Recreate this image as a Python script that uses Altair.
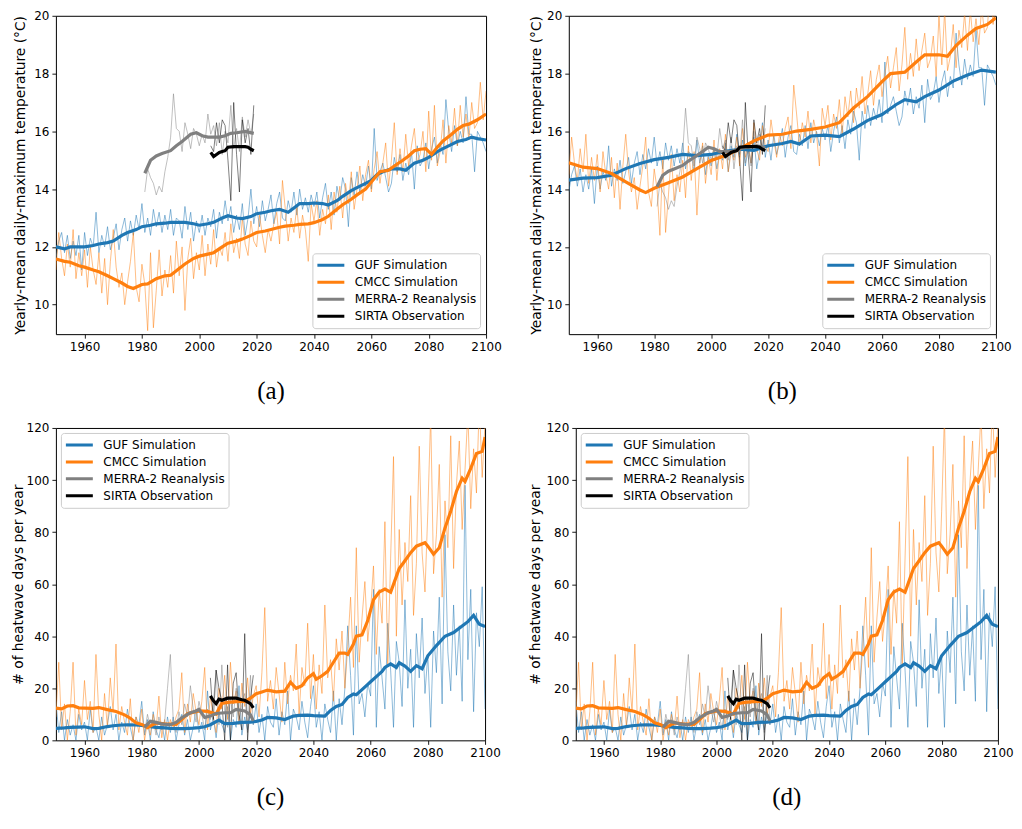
import altair as alt
import pandas as pd

FONT = "DejaVu Sans"
SERIES = ["GUF Simulation", "CMCC Simulation", "MERRA-2 Reanalysis", "SIRTA Observation"]
COLORS = ["#1f77b4", "#ff7f0e", "#808080", "#000000"]

YEARS_SIM = list(range(1950, 2101))
YEARS_MERRA = list(range(1981, 2020))
YEARS_SIRTA = list(range(2004, 2020))

# ---------------- panel (a): yearly-mean daily-max temperature, raw model output
GUF_A_RAW = [
    11.6, 12.2, 12.5, 11.8, 12.4, 11.6, 12.2, 11.7, 12.4, 11.2,
    12.5, 11.7, 12.3, 12.0, 13.2, 11.8, 12.4, 12.0, 12.7, 11.9,
    12.3, 12.8, 11.9, 12.6, 13.0, 12.2, 12.9, 12.4, 13.1, 12.6,
    13.5, 12.5, 13.0, 12.4, 13.3, 12.7, 13.2, 12.5, 13.1, 12.6,
    13.3, 12.4, 13.0, 12.9, 12.3, 13.4, 12.6, 13.2, 12.2, 12.9,
    12.5, 13.1, 12.4, 13.0, 12.7, 13.3, 12.3, 13.2, 12.8, 13.6,
    12.9, 13.4, 12.5, 13.1, 12.6, 13.5, 12.4, 13.0, 14.0, 12.8,
    13.4, 12.7, 13.6, 12.9, 13.3, 13.8, 12.8, 13.5, 13.9, 13.0,
    12.9, 13.6, 13.2, 13.9, 13.1, 14.0, 13.3, 13.7, 13.2, 13.8,
    13.4, 13.9, 13.0, 13.7, 14.2, 13.3, 13.9, 13.1, 14.1, 13.6,
    14.4, 14.0, 12.7, 14.4, 13.8, 14.6, 13.9, 14.5, 14.1, 14.8,
    14.0, 16.1, 14.3, 14.6, 14.9, 14.4, 13.9, 14.2, 15.1, 14.6,
    15.2, 14.3, 14.9, 14.5, 15.3, 14.0, 15.5, 14.8, 15.0, 15.6,
    14.7, 15.4, 15.8, 14.9, 15.6, 15.2, 17.1, 16.0, 15.3, 16.2,
    15.5, 16.0, 15.6, 17.2, 15.9, 15.9, 14.6, 16.0, 15.8, 15.6,
    15.3,
]
CMCC_A_RAW = [
    11.2, 12.5, 11.6, 11.0, 12.1, 11.3, 12.6, 10.9, 11.8, 11.0,
    11.9, 10.6, 12.0, 11.2, 10.7, 11.8, 10.4, 11.6, 10.0, 11.5,
    12.6, 11.3, 10.6, 11.1, 10.0, 10.8, 11.5, 12.5, 10.6, 10.1,
    11.4, 10.7, 9.1, 11.8, 9.2, 10.5, 11.9, 10.3, 11.2, 10.6,
    11.7, 10.4, 12.2, 11.0, 12.0, 9.8, 11.6, 12.3, 10.9, 11.8,
    11.2, 12.4, 11.0, 12.1, 11.4, 12.6, 11.3, 12.0, 11.7, 12.5,
    11.5, 12.8, 11.8, 12.3, 11.6, 13.0, 12.1, 11.7, 12.9, 12.2,
    12.0, 13.1, 12.4, 11.8, 12.6, 12.2, 12.8, 13.2, 12.1, 14.3,
    13.3, 12.2, 13.0, 12.5, 13.4, 12.3, 13.1, 12.6, 11.5, 13.5,
    12.9, 13.6, 12.4, 13.3, 12.8, 13.8, 12.6, 13.9, 13.2, 14.1,
    13.0, 14.2, 13.5, 14.6, 13.3, 14.0, 14.8, 13.6, 14.5, 15.0,
    13.9, 14.7, 15.3, 14.2, 14.9, 15.6, 14.1, 15.0, 16.3, 14.5,
    15.4, 14.6, 15.9, 14.8, 15.5, 16.1, 14.9, 15.2, 16.0, 14.6,
    16.7, 15.0, 16.9, 14.8, 15.3, 16.4, 14.9, 16.2, 15.6, 16.8,
    15.5, 16.9, 15.8, 16.6, 15.7, 17.0, 16.1, 16.3, 17.7, 16.4,
    17.4,
]
MERRA_A_RAW = [
    13.9, 14.7, 14.4, 14.2, 13.8, 14.1, 13.9, 14.6, 15.1, 15.8,
    17.3, 16.1, 16.0, 15.3, 16.3, 15.9, 15.4, 16.1, 15.9, 15.5,
    15.9, 15.6, 16.6, 15.9, 16.2, 15.5, 16.3, 15.2, 16.0, 15.6,
    16.9, 15.4, 16.1, 15.3, 16.5, 15.8, 16.4, 15.9, 16.6,
]
SIRTA_T_RAW = [15.5, 15.3, 16.3, 15.6, 16.4, 16.2, 15.0, 13.6,
               17.0, 15.2, 13.9, 16.4, 15.6, 16.1, 15.2, 16.9]

GUF_A_SM = [(1950, 12.0), (1953, 11.93), (1955, 12.0), (1958, 12.0), (1960, 12.0),
            (1963, 12.05), (1965, 12.1), (1968, 12.15), (1970, 12.2), (1973, 12.4),
            (1975, 12.5), (1978, 12.6), (1980, 12.7), (1983, 12.75), (1985, 12.8),
            (1988, 12.82), (1990, 12.85), (1993, 12.85), (1995, 12.85), (1998, 12.8),
            (2000, 12.75), (2003, 12.8), (2005, 12.85), (2008, 13.0), (2010, 13.08),
            (2013, 13.0), (2015, 12.98), (2018, 13.05), (2020, 13.15), (2023, 13.2),
            (2025, 13.25), (2028, 13.3), (2031, 13.2), (2033, 13.35), (2035, 13.5),
            (2038, 13.5), (2040, 13.52), (2043, 13.5), (2045, 13.45), (2048, 13.6),
            (2050, 13.75), (2053, 13.95), (2055, 14.05), (2058, 14.2), (2060, 14.3),
            (2062, 14.5), (2064, 14.6), (2067, 14.7), (2070, 14.7), (2072, 14.65),
            (2075, 14.9), (2078, 15.0), (2080, 15.1), (2083, 15.3), (2085, 15.4),
            (2088, 15.55), (2090, 15.65), (2093, 15.72), (2095, 15.8), (2097, 15.75),
            (2100, 15.7)]
CMCC_A_SM = [(1950, 11.58), (1953, 11.5), (1955, 11.47), (1958, 11.35), (1960, 11.3),
             (1963, 11.2), (1965, 11.14), (1968, 11.0), (1970, 10.9), (1973, 10.75),
             (1975, 10.63), (1977, 10.56), (1980, 10.7), (1982, 10.72), (1985, 10.9),
             (1988, 11.0), (1990, 11.02), (1993, 11.25), (1995, 11.41), (1998, 11.6),
             (2000, 11.68), (2003, 11.75), (2005, 11.8), (2008, 12.0), (2010, 12.13),
             (2013, 12.2), (2015, 12.27), (2018, 12.4), (2020, 12.5), (2023, 12.55),
             (2025, 12.6), (2028, 12.68), (2030, 12.72), (2033, 12.75), (2035, 12.78),
             (2038, 12.8), (2040, 12.84), (2043, 12.95), (2045, 13.06), (2048, 13.3),
             (2050, 13.46), (2053, 13.65), (2055, 13.8), (2058, 14.0), (2060, 14.25),
             (2063, 14.6), (2066, 14.65), (2068, 14.8), (2071, 15.0), (2073, 15.15),
             (2075, 15.33), (2077, 15.38), (2079, 15.4), (2081, 15.2), (2083, 15.45),
             (2085, 15.67), (2088, 15.9), (2090, 16.07), (2092, 16.2), (2094, 16.25),
             (2097, 16.4), (2100, 16.6)]
MERRA_A_SM = [(1981, 14.55), (1983, 15.0), (1985, 15.15), (1987, 15.23), (1990, 15.33),
              (1992, 15.5), (1994, 15.65), (1997, 15.9), (1999, 15.95), (2001, 15.85),
              (2003, 15.8), (2005, 15.8), (2007, 15.8), (2009, 15.85), (2011, 15.93),
              (2013, 15.95), (2016, 16.0), (2019, 15.93)]
SIRTA_T_SM = [(2004, 15.27), (2005, 15.13), (2006, 15.2), (2007, 15.27), (2008, 15.3),
              (2009, 15.33), (2010, 15.45), (2012, 15.47), (2014, 15.47), (2016, 15.47),
              (2017, 15.45), (2018, 15.38), (2019, 15.33)]

# ---------------- panel (b): bias-corrected temperatures
GUF_B_RAW = [
    13.9, 14.5, 14.8, 14.1, 14.7, 13.9, 14.5, 14.0, 14.7, 13.5,
    14.8, 14.0, 14.6, 14.3, 15.5, 14.1, 14.7, 14.3, 15.0, 14.2,
    14.6, 15.1, 14.2, 14.9, 15.3, 14.5, 15.2, 14.7, 15.4, 14.9,
    15.8, 14.8, 15.3, 14.7, 15.6, 15.0, 15.5, 14.8, 15.4, 14.9,
    15.6, 14.7, 15.3, 15.2, 14.6, 15.7, 14.9, 15.5, 14.5, 15.2,
    14.8, 15.4, 14.7, 15.3, 15.0, 15.6, 14.6, 15.5, 15.1, 15.9,
    15.2, 15.7, 14.8, 15.4, 14.9, 15.8, 14.7, 15.3, 16.3, 15.1,
    15.7, 15.0, 15.9, 15.2, 15.6, 16.1, 15.1, 15.8, 16.2, 15.3,
    15.2, 15.9, 15.5, 16.2, 15.4, 16.3, 15.6, 16.0, 15.5, 16.1,
    15.7, 16.2, 15.3, 16.0, 16.5, 15.6, 16.2, 15.4, 16.4, 15.9,
    16.7, 16.3, 15.0, 16.7, 16.1, 16.9, 16.2, 16.8, 16.4, 17.1,
    16.3, 18.4, 16.6, 16.9, 17.2, 16.7, 16.2, 16.5, 17.4, 16.9,
    17.5, 16.6, 17.2, 16.8, 17.6, 16.3, 17.8, 17.1, 17.3, 17.9,
    17.0, 17.7, 18.1, 17.2, 17.9, 17.5, 19.4, 18.3, 17.6, 18.5,
    17.8, 18.3, 17.9, 19.5, 18.2, 18.2, 16.9, 18.3, 18.1, 17.9,
    17.6,
]
CMCC_B_RAW = [
    14.5, 15.8, 14.9, 14.3, 15.4, 14.6, 15.9, 14.2, 15.1, 14.3,
    15.2, 13.9, 15.3, 14.5, 14.0, 15.1, 13.7, 14.9, 13.3, 14.8,
    15.9, 14.6, 13.9, 14.4, 13.3, 14.1, 14.8, 15.8, 13.9, 13.4,
    14.7, 14.0, 12.4, 15.1, 12.5, 13.8, 15.2, 13.6, 14.5, 13.9,
    15.0, 13.7, 15.5, 14.3, 15.3, 13.1, 14.9, 15.6, 14.2, 15.1,
    14.5, 15.7, 14.3, 15.4, 14.7, 15.9, 14.6, 15.3, 15.0, 15.8,
    14.8, 16.1, 15.1, 15.6, 14.9, 16.3, 15.4, 15.0, 16.2, 15.5,
    15.3, 16.4, 15.7, 15.1, 15.9, 15.5, 16.1, 16.5, 15.4, 17.6,
    16.6, 15.5, 16.3, 15.8, 16.7, 15.6, 16.4, 15.9, 14.8, 16.8,
    16.2, 16.9, 15.7, 16.6, 16.1, 17.1, 15.9, 17.2, 16.5, 17.4,
    16.3, 17.5, 16.8, 17.9, 16.6, 17.3, 18.1, 16.9, 17.8, 18.3,
    17.2, 18.0, 18.6, 17.5, 18.2, 18.9, 17.4, 18.3, 19.6, 17.8,
    18.7, 17.9, 19.2, 18.1, 18.8, 19.4, 18.2, 18.5, 19.3, 17.9,
    20.0, 18.3, 20.2, 18.1, 18.6, 19.7, 18.2, 19.5, 18.9, 20.1,
    18.8, 20.2, 19.1, 19.9, 19.0, 20.3, 19.4, 19.6, 21.0, 19.7,
    20.7,
]
MERRA_B_RAW = [
    13.4, 14.2, 13.9, 13.7, 13.3, 13.6, 13.4, 14.1, 14.6, 15.3,
    16.8, 15.6, 15.5, 14.8, 15.8, 15.4, 14.9, 15.6, 15.4, 15.0,
    15.4, 15.1, 16.1, 15.4, 15.7, 15.0, 15.8, 14.7, 15.5, 15.1,
    16.4, 14.9, 15.6, 14.8, 16.0, 15.3, 15.9, 15.4, 16.1,
]
GUF_B_SM = [(1950, 14.31), (1955, 14.38), (1960, 14.4), (1965, 14.48), (1970, 14.71),
            (1975, 14.89), (1980, 15.02), (1985, 15.1), (1990, 15.2), (1995, 15.16),
            (2000, 15.2), (2005, 15.31), (2010, 15.38), (2015, 15.34), (2020, 15.5),
            (2025, 15.58), (2028, 15.65), (2031, 15.56), (2035, 15.84), (2040, 15.87),
            (2045, 15.82), (2050, 16.08), (2055, 16.38), (2060, 16.58), (2065, 16.93),
            (2068, 17.1), (2072, 17.02), (2075, 17.2), (2080, 17.43), (2085, 17.74),
            (2090, 17.95), (2095, 18.12), (2100, 18.05)]
CMCC_B_SM = [(1950, 14.91), (1955, 14.76), (1960, 14.71), (1965, 14.54), (1970, 14.25),
             (1975, 13.97), (1977, 13.88), (1980, 14.03), (1985, 14.22), (1990, 14.42),
             (1995, 14.71), (2000, 14.99), (2005, 15.16), (2010, 15.39), (2015, 15.67),
             (2020, 15.87), (2025, 15.9), (2030, 16.01), (2035, 16.07), (2040, 16.15),
             (2045, 16.3), (2050, 16.81), (2055, 17.21), (2060, 17.72), (2063, 18.0),
             (2068, 18.05), (2072, 18.4), (2075, 18.65), (2080, 18.65), (2083, 18.6),
             (2086, 18.97), (2090, 19.33), (2093, 19.56), (2097, 19.7), (2100, 19.93)]
MERRA_B_SM = [(1981, 14.08), (1983, 14.48), (1985, 14.62), (1987, 14.7), (1990, 14.82),
              (1992, 14.97), (1994, 15.1), (1997, 15.3), (1999, 15.45), (2001, 15.4),
              (2003, 15.3), (2005, 15.3), (2007, 15.3), (2009, 15.35), (2011, 15.43),
              (2013, 15.45), (2016, 15.5), (2019, 15.43)]

# ---------------- panels (c) and (d): heatwave days per year
GUF_H_RAW = [
    15, 3, 11, 0, 8, 2, 6, 0, 10, 4,
    7, 0, 12, 3, 5, 0, 9, 2, 6, 13,
    4, 10, 0, 7, 3, 12, 5, 0, 9, 6,
    15, 2, 8, 0, 11, 4, 1, 7, 0, 9,
    3, 9, 0, 6, 10, 2, 8, 0, 5, 12,
    3, 7, 0, 19, 4, 9, 1, 11, 6, 3,
    13, 0, 8, 5, 21, 2, 9, 4, 11, 6,
    14, 3, 10, 0, 13, 7, 5, 16, 2, 11,
    6, 19, 0, 12, 9, 4, 15, 7, 1, 13,
    21, 5, 11, 0, 14, 8, 3, 19, 0, 16,
    6, 20, 44, 25, 2, 44, 14, 18, 9, 22,
    17, 58, 5, 36, 24, 12, 45, 27, 5, 38,
    30, 13, 54, 20, 35, 5, 41, 24, 47, 18,
    33, 5, 42, 26, 55, 14, 79, 34, 19, 52,
    25, 44, 15, 98, 31, 58, 11, 49, 36, 59,
    12,
]
CMCC_H_RAW = [
    9, 30, 4, 14, 0, 11, 30, 2, 12, 6,
    23, 8, 15, 3, 33, 10, 0, 18, 5, 24,
    11, 37, 4, 13, 7, 2, 16, 0, 9, 3,
    12, 0, 7, 2, 10, 4, 17, 1, 8, 0,
    8, 5, 9, 12, 26, 3, 14, 7, 18, 11,
    6, 15, 28, 4, 17, 9, 3, 20, 12, 25,
    8, 30, 14, 19, 6, 22, 13, 24, 10, 17,
    21, 9, 26, 51, 15, 23, 12, 28, 18, 7,
    30, 14, 25, 19, 37, 10, 28, 21, 45, 16,
    33, 12, 29, 18, 52, 24, 31, 15, 39, 27,
    42, 20, 36, 55, 28, 74, 30, 47, 61, 38,
    50, 67, 33, 58, 45, 84, 29, 70, 109, 40,
    81, 52, 76, 61, 94, 48, 68, 113, 72, 57,
    88, 125, 64, 79, 106, 55, 92, 74, 117, 66,
    98, 115, 81, 104, 126, 89, 112, 95, 130, 101,
    122,
]
MERRA_H_RAW = [3, 10, 5, 8, 2, 9, 4, 7, 20, 33,
               8, 3, 11, 6, 14, 9, 21, 12, 7, 15,
               10, 4, 12, 8, 14, 27, 6, 29, 11, 5,
               16, 9, 20, 7, 14, 18, 3, 25, 6]
SIRTA_H_RAW = [24, 8, 27, 20, 15, 0, 29, 0, 22, 26, 10, 4, 41, 0, 16, 25]

GUF_H_SM = [(1950, 4.6), (1953, 4.8), (1955, 5.0), (1958, 5.1), (1960, 5.2), (1963, 4.5),
            (1965, 4.6), (1968, 5.3), (1970, 5.6), (1973, 5.9), (1975, 6.0), (1978, 5.9),
            (1980, 5.7), (1983, 5.3), (1985, 5.0), (1988, 4.8), (1990, 4.6), (1993, 4.5),
            (1995, 4.5), (1998, 4.7), (2000, 4.9), (2002, 5.2), (2004, 6.0), (2007, 7.8),
            (2009, 6.4), (2012, 6.5), (2015, 6.9), (2018, 7.0), (2020, 7.3), (2022, 7.8),
            (2024, 8.8), (2027, 8.6), (2030, 8.0), (2033, 9.3), (2035, 9.6), (2038, 9.7),
            (2040, 9.5), (2044, 9.3), (2046, 11.5), (2048, 13.0), (2050, 13.8), (2052, 16.5),
            (2054, 17.8), (2055, 17.5), (2057, 19.5), (2059, 21.5), (2060, 22.5), (2062, 24.5),
            (2064, 26.5), (2065, 28.0), (2067, 29.4), (2069, 28.0), (2070, 29.8), (2072, 28.5),
            (2074, 26.5), (2076, 28.7), (2078, 27.5), (2080, 32.5), (2083, 36.4), (2086, 40.0),
            (2089, 41.4), (2092, 43.9), (2094, 45.6), (2096, 48.0), (2098, 44.6), (2100, 43.7)]
CMCC_H_SM = [(1950, 12.4), (1952, 12.1), (1954, 13.2), (1956, 13.3), (1958, 12.5), (1960, 12.4),
             (1963, 12.3), (1965, 12.6), (1968, 11.8), (1971, 11.1), (1974, 9.8), (1976, 8.5),
             (1978, 6.7), (1980, 6.1), (1982, 4.9), (1985, 6.7), (1988, 6.3), (1992, 6.1),
             (1994, 8.0), (1996, 10.2), (2000, 11.3), (2003, 11.1), (2006, 10.1), (2008, 14.2),
             (2010, 14.6), (2013, 14.9), (2016, 15.0), (2018, 16.2), (2020, 17.9), (2022, 18.6),
             (2024, 19.3), (2027, 18.6), (2030, 18.9), (2032, 22.3), (2034, 20.0), (2036, 21.0),
             (2038, 24.0), (2040, 25.6), (2041, 23.5), (2043, 24.8), (2045, 26.5), (2047, 30.0),
             (2049, 33.5), (2051, 33.5), (2052, 33.0), (2054, 37.0), (2055, 40.0), (2057, 40.5),
             (2059, 46.0), (2061, 54.0), (2063, 57.0), (2065, 58.1), (2067, 56.9), (2069, 63.0),
             (2070, 66.0), (2072, 69.0), (2074, 72.1), (2076, 74.6), (2079, 75.9), (2080, 74.6),
             (2082, 71.5), (2084, 74.0), (2086, 81.6), (2088, 88.0), (2090, 95.6), (2092, 100.7),
             (2093, 99.4), (2095, 104.5), (2097, 110.2), (2099, 111.0), (2100, 116.5)]
MERRA_H_SM = [(1981, 5.0), (1983, 7.3), (1985, 6.9), (1987, 6.3), (1990, 6.0), (1992, 6.9),
              (1994, 8.7), (1997, 10.6), (1999, 11.3), (2000, 11.9), (2002, 8.8), (2004, 9.4),
              (2006, 10.3), (2009, 10.6), (2011, 10.6), (2013, 11.9), (2016, 11.3), (2018, 9.8),
              (2019, 7.5)]
SIRTA_H_SM = [(2004, 17.1), (2005, 15.3), (2006, 14.1), (2007, 15.8), (2008, 15.4), (2010, 16.2),
              (2013, 16.2), (2015, 15.6), (2016, 15.4), (2018, 14.1), (2019, 12.5)]

TEMP_TITLE = "Yearly-mean daily-maximum temperature (°C)"
HW_TITLE = "# of heatwave days per year"


def raw_frame(sets):
    rows = []
    for name, years, vals in sets:
        assert len(years) == len(vals), name
        for yr, v in zip(years, vals):
            rows.append({"year": yr, "value": v, "series": name})
    return pd.DataFrame(rows)


def make_panel(raw_sets, smooth_sets, ydom, yvals, ytitle, w, h, legend_orient,
               legend_offset, tag, tpad):
    x = alt.X("year:Q", scale=alt.Scale(domain=[1950, 2100], nice=False, zero=False),
              axis=alt.Axis(values=list(range(1960, 2101, 20)), format="d", title=None,
                            labelFlush=False, labelOverlap=False, grid=False, domain=False,
                            tickSize=4, tickColor="#000", tickWidth=0.9, labelFont=FONT,
                            labelFontSize=12, labelColor="#000", labelPadding=3))
    y = alt.Y("value:Q", scale=alt.Scale(domain=ydom, nice=False, zero=False),
              axis=alt.Axis(values=yvals, format="d", title=ytitle, labelFlush=False,
                            labelOverlap=False, grid=False, domain=False, tickSize=4,
                            tickColor="#000", tickWidth=0.9, labelFont=FONT, labelFontSize=12,
                            labelColor="#000", labelPadding=3, titleFont=FONT,
                            titleFontSize=13.8, titleFontWeight="normal", titleColor="#000",
                            titlePadding=tpad))
    legend = alt.Legend(title=None, orient=legend_orient, offset=legend_offset,
                        symbolType="stroke", symbolSize=729, symbolStrokeWidth=3,
                        symbolOpacity=1, labelFont=FONT, labelFontSize=12, labelColor="#000",
                        labelOffset=9, rowPadding=0, clipHeight=17, padding=3.5,
                        strokeColor="#cccccc", fillColor="rgba(255,255,255,0.8)",
                        cornerRadius=3)
    color = alt.Color("series:N", scale=alt.Scale(domain=SERIES, range=COLORS), legend=legend)
    layers = [alt.Chart(raw_frame(raw_sets)).mark_line(strokeWidth=1, opacity=0.5, clip=True)
              .encode(x=x, y=y, color=color, detail="series:N")]
    for name, pairs in smooth_sets:
        df = pd.DataFrame(pairs, columns=["year", "value"])
        df["series"] = name
        layers.append(alt.Chart(df).mark_line(strokeWidth=3.2, clip=True)
                      .encode(x=x, y=y, color=color))
    return alt.layer(*layers).properties(
        width=w, height=h,
        title=alt.Title(tag, orient="bottom", font="Liberation Serif", fontSize=25,
                        fontWeight="normal", color="#000", offset=27))


pa = make_panel(
    [(SERIES[0], YEARS_SIM, GUF_A_RAW), (SERIES[1], YEARS_SIM, CMCC_A_RAW),
     (SERIES[2], YEARS_MERRA, MERRA_A_RAW), (SERIES[3], YEARS_SIRTA, SIRTA_T_RAW)],
    [(SERIES[0], GUF_A_SM), (SERIES[1], CMCC_A_SM), (SERIES[2], MERRA_A_SM),
     (SERIES[3], SIRTA_T_SM)],
    [8.98, 20], [10, 12, 14, 16, 18, 20], TEMP_TITLE, 431, 319, "bottom-right", 6, "(a)", 6.5)
pb = make_panel(
    [(SERIES[0], YEARS_SIM, GUF_B_RAW), (SERIES[1], YEARS_SIM, CMCC_B_RAW),
     (SERIES[2], YEARS_MERRA, MERRA_B_RAW), (SERIES[3], YEARS_SIRTA, SIRTA_T_RAW)],
    [(SERIES[0], GUF_B_SM), (SERIES[1], CMCC_B_SM), (SERIES[2], MERRA_B_SM),
     (SERIES[3], SIRTA_T_SM)],
    [8.98, 20], [10, 12, 14, 16, 18, 20], TEMP_TITLE, 428, 319, "bottom-right", 6, "(b)", 3.3)
hw_raw = [(SERIES[0], YEARS_SIM, GUF_H_RAW), (SERIES[1], YEARS_SIM, CMCC_H_RAW),
          (SERIES[2], YEARS_MERRA, MERRA_H_RAW), (SERIES[3], YEARS_SIRTA, SIRTA_H_RAW)]
hw_sm = [(SERIES[0], GUF_H_SM), (SERIES[1], CMCC_H_SM), (SERIES[2], MERRA_H_SM),
         (SERIES[3], SIRTA_H_SM)]
pc = make_panel(hw_raw, hw_sm, [0, 120], [0, 20, 40, 60, 80, 100, 120], HW_TITLE,
                430, 313, "top-left", 5, "(c)", 0.4)
pdd = make_panel(hw_raw, hw_sm, [0, 120], [0, 20, 40, 60, 80, 100, 120], HW_TITLE,
                 423, 313, "top-left", 5, "(d)", 3.2)

PAD = {"left": 3, "top": 0, "right": 0, "bottom": 0}
chart = (alt.concat(pa, pb, pc, pdd, columns=2, align="none",
                    spacing={"row": 16, "column": 25.9})
         .resolve_scale(color="independent").resolve_legend(color="independent")
         .properties(padding=PAD)
         .configure(background="white", font=FONT, padding=PAD)
         .configure_view(stroke="#000", strokeWidth=1))

chart.save("out.html", embed_options={"renderer": "svg", "actions": False})
